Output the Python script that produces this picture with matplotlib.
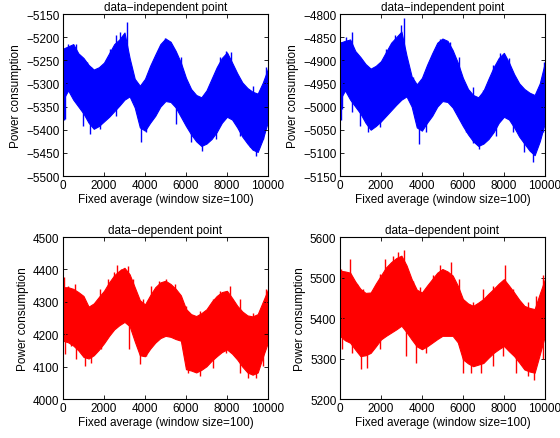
import matplotlib
matplotlib.use("Agg")
import matplotlib.pyplot as plt
import numpy as np

plt.rcParams['font.family'] = ['Liberation Sans', 'DejaVu Sans']

# sample positions (x) of envelope readings
x_env = [0, 250, 500, 750, 1000, 1250, 1500, 1750, 2000, 2250, 2500, 2750, 3000,
         3250, 3500, 3750, 4000, 4250, 4500, 4750, 5000, 5250, 5500, 5750, 6000,
         6250, 6500, 6750, 7000, 7250, 7500, 7750, 8000, 8250, 8500, 8750, 9000,
         9250, 9500, 9750, 10000]

# ---------------- top-left: data-independent point ----------------
tl_hi = [-5225, -5220, -5215, -5235, -5245, -5260, -5270, -5265, -5255, -5235, -5215, -5205, -5190,
         -5245, -5290, -5305, -5290, -5262, -5238, -5215, -5203, -5210, -5230, -5255, -5288,
         -5312, -5325, -5330, -5315, -5290, -5265, -5245, -5233, -5255, -5278, -5298, -5310,
         -5318, -5322, -5298, -5268]
tl_lo = [-5335, -5315, -5335, -5350, -5365, -5385, -5398, -5392, -5382, -5372, -5360, -5348, -5335,
         -5328, -5352, -5395, -5402, -5385, -5370, -5350, -5338, -5340, -5352, -5372, -5392,
         -5410, -5425, -5435, -5430, -5420, -5405, -5385, -5372, -5378, -5395, -5415, -5430,
         -5443, -5448, -5420, -5382]
tl_up_x = [240, 650, 1170, 1380, 2280, 2600, 2760, 3140, 4700, 4960, 5200, 5770, 7640, 7970, 8210, 9270, 9920]
tl_up_y = [-5214, -5214, -5254, -5265, -5225, -5196, -5188, -5168, -5225, -5201, -5210, -5243, -5243, -5230, -5232, -5306, -5264]
tl_dn_x = [30, 80, 980, 1300, 1800, 2600, 3820, 4070, 5530, 6260, 6780, 7480, 8620, 9100, 9430, 9760]
tl_dn_y = [-5380, -5377, -5391, -5409, -5398, -5370, -5427, -5406, -5388, -5427, -5446, -5420, -5413, -5438, -5456, -5420]

# ---------------- top-right: data-independent point ----------------
tr_hi = [-4862, -4858, -4855, -4880, -4893, -4908, -4918, -4912, -4902, -4882, -4862, -4850, -4838,
         -4890, -4935, -4952, -4938, -4910, -4885, -4862, -4853, -4858, -4878, -4905, -4938,
         -4962, -4975, -4980, -4966, -4940, -4915, -4895, -4884, -4905, -4930, -4950, -4962,
         -4970, -4975, -4950, -4905]
tr_lo = [-4985, -4965, -4985, -5000, -5015, -5035, -5050, -5042, -5032, -5020, -5008, -4996, -4985,
         -4978, -5000, -5045, -5052, -5035, -5020, -5000, -4988, -4990, -5002, -5022, -5042,
         -5060, -5075, -5085, -5080, -5070, -5055, -5035, -5022, -5028, -5045, -5065, -5080,
         -5095, -5105, -5075, -5035]
tr_up_x = [50, 320, 570, 970, 1200, 1940, 2270, 2670, 3000, 3130, 3570, 3890, 4380, 4860, 5350, 5830,
           6480, 6970, 7460, 7810, 8270, 8750, 9400, 9970]
tr_up_y = [-4860, -4849, -4838, -4900, -4918, -4911, -4875, -4846, -4824, -4809, -4936, -4969, -4900, -4854,
           -4860, -4893, -4958, -4965, -4911, -4885, -4896, -4954, -4983, -4904]
tr_dn_x = [30, 80, 570, 970, 1380, 1940, 3860, 4210, 6160, 6480, 6770, 7620, 8430, 9000, 9400, 9890]
tr_dn_y = [-5030, -5005, -5012, -5041, -5056, -5045, -5081, -5056, -5056, -5078, -5092, -5063, -5056, -5099, -5119, -5056]

# ---------------- bottom-left: data-dependent point ----------------
bl_hi = [4345, 4345, 4340, 4330, 4318, 4285, 4295, 4315, 4334, 4360, 4382, 4396, 4405,
         4385, 4345, 4305, 4292, 4320, 4345, 4360, 4365, 4355, 4340, 4320, 4278,
         4262, 4256, 4265, 4277, 4300, 4318, 4330, 4334, 4312, 4288, 4270, 4258,
         4255, 4262, 4300, 4338]
bl_lo = [4180, 4175, 4165, 4150, 4130, 4125, 4135, 4152, 4172, 4195, 4215, 4228, 4238,
         4225, 4178, 4135, 4132, 4155, 4174, 4188, 4195, 4192, 4185, 4180, 4092,
         4088, 4082, 4090, 4101, 4118, 4132, 4145, 4153, 4140, 4122, 4100, 4082,
         4075, 4082, 4130, 4175]
bl_up_x = [50, 240, 570, 800, 1200, 1800, 2200, 2500, 2650, 2850, 3150, 3400, 3900, 4300, 4700, 5040,
           5450, 6000, 6670, 7300, 7640, 8130, 8620, 9270, 9920]
bl_up_y = [4376, 4350, 4355, 4319, 4288, 4340, 4371, 4391, 4414, 4402, 4412, 4371, 4308, 4350, 4365, 4371,
           4355, 4288, 4272, 4308, 4334, 4350, 4308, 4267, 4340]
bl_dn_x = [80, 400, 650, 1050, 1380, 1870, 3220, 3740, 4070, 6100, 6700, 7300, 7970, 8620, 9020, 9430, 9760]
bl_dn_y = [4138, 4164, 4122, 4101, 4112, 4153, 4153, 4107, 4132, 4081, 4070, 4096, 4143, 4081, 4065, 4065, 4101]

# ---------------- bottom-right: data-dependent point ----------------
br_hi = [5517, 5515, 5512, 5490, 5472, 5462, 5463, 5485, 5505, 5525, 5538, 5548, 5554,
         5530, 5496, 5470, 5463, 5480, 5496, 5512, 5521, 5515, 5505, 5480, 5447,
         5436, 5430, 5438, 5447, 5460, 5472, 5485, 5496, 5480, 5463, 5445, 5430,
         5425, 5422, 5460, 5496]
br_lo = [5356, 5345, 5339, 5322, 5306, 5308, 5314, 5330, 5347, 5356, 5364, 5372, 5381,
         5365, 5347, 5330, 5323, 5330, 5339, 5348, 5356, 5356, 5356, 5340, 5298,
         5288, 5281, 5285, 5289, 5302, 5314, 5323, 5331, 5318, 5306, 5290, 5273,
         5268, 5265, 5310, 5356]
br_up_x = [50, 490, 810, 1130, 1460, 1940, 2190, 2600, 2840, 3110, 3570, 3890, 4540, 4860, 5430, 5830,
           6480, 6970, 7460, 8060, 8430, 9160, 9560, 9890]
br_up_y = [5521, 5546, 5484, 5472, 5463, 5509, 5546, 5554, 5563, 5569, 5492, 5476, 5505, 5530, 5538, 5496,
           5439, 5472, 5480, 5530, 5472, 5439, 5455, 5505]
br_dn_x = [80, 570, 1050, 1330, 1940, 3240, 3730, 4210, 6000, 6400, 6890, 7460, 7940, 8590, 9160, 9480, 9890]
br_dn_y = [5323, 5314, 5273, 5277, 5323, 5306, 5289, 5314, 5265, 5265, 5265, 5281, 5306, 5265, 5256, 5246, 5298]

titles = ["data\u2212independent point", "data\u2212independent point",
          "data\u2212dependent point", "data\u2212dependent point"]
ylims = [(-5500, -5150), (-5150, -4800), (4000, 4500), (5200, 5600)]
yticks = [list(range(-5500, -5149, 50)), list(range(-5150, -4799, 50)),
          list(range(4000, 4501, 100)), list(range(5200, 5601, 100))]
xticks = [0, 2000, 4000, 6000, 8000, 10000]
xlabel = "Fixed average (window size=100)"
ylabel = "Power consumption"

panels = [(tl_hi, tl_lo, tl_up_x, tl_up_y, tl_dn_x, tl_dn_y, '#0000ff'),
          (tr_hi, tr_lo, tr_up_x, tr_up_y, tr_dn_x, tr_dn_y, '#0000ff'),
          (bl_hi, bl_lo, bl_up_x, bl_up_y, bl_dn_x, bl_dn_y, '#ff0000'),
          (br_hi, br_lo, br_up_x, br_up_y, br_dn_x, br_dn_y, '#ff0000')]

fig = plt.figure(figsize=(5.6, 4.39), dpi=100)
rects = [(0.1125, 0.5968, 0.366, 0.369), (0.607, 0.5968, 0.366, 0.369),
         (0.1125, 0.0888, 0.366, 0.369), (0.607, 0.0888, 0.366, 0.369)]

for i, (hi, lo, ux, uy, dx, dy, col) in enumerate(panels):
    ax = fig.add_axes(rects[i])
    ax.fill_between(x_env, lo, hi, color=col, linewidth=0.8, edgecolor=col)
    mid = (np.array(hi) + np.array(lo)) / 2
    # upward spikes starting inside the band
    ax.vlines(ux, np.interp(ux, x_env, mid), uy, color=col, linewidth=1.0)
    # downward spikes starting inside the band
    ax.vlines(dx, np.interp(dx, x_env, mid), dy, color=col, linewidth=1.0)
    ax.set_xlim(0, 10000)
    ax.set_ylim(*ylims[i])
    ax.set_xticks(xticks)
    ax.set_yticks(yticks[i])
    ax.tick_params(direction='in', top=True, right=True, labelsize=8.5,
                   length=3, width=0.6, pad=2.5)
    for s in ax.spines.values():
        s.set_linewidth(0.8)
    ax.set_title(titles[i], fontsize=8.5, pad=3)
    ax.set_xlabel(xlabel, fontsize=8.5, labelpad=1)
    ax.set_ylabel(ylabel, fontsize=8.5, labelpad=3)

fig.savefig("out.png", dpi=100)
